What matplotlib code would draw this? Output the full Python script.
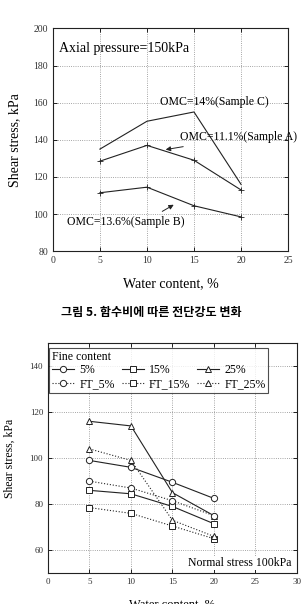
import matplotlib
matplotlib.use("Agg")
import matplotlib.pyplot as plt

plt.rcParams['font.family'] = ['Liberation Serif', 'DejaVu Serif']

# top chart data
water = [5, 10, 15, 20]
sample_c = [135, 150, 155, 116]
sample_a = [128.5, 137, 129, 113]
sample_b = [111.5, 114.5, 104.5, 98.5]

# bottom chart data
fine_5 = [99, 96, 89.5, 82.5]
fine_15 = [86, 84.5, 79, 71.5]
fine_25 = [116, 114, 85, 75]
ft_5 = [90, 87, 81.5, 75]
ft_15 = [78.5, 76, 70.5, 65]
ft_25 = [104, 99, 73, 66]

fig = plt.figure(figsize=(3.02, 6.04), dpi=100)
ink = '#222222'

def style(ax, tsize):
    ax.grid(True, linestyle=':', color='#888888', linewidth=0.6)
    ax.tick_params(direction='in', top=True, right=True, labelsize=tsize, length=3,
                   width=0.6, labelcolor='#333333')
    for s in ax.spines.values():
        s.set_linewidth(0.8)
        s.set_color(ink)

# ---- top chart ----
ax1 = fig.add_axes([0.175, 0.584, 0.779, 0.369])
ax1.plot(water, sample_c, color=ink, lw=0.8)
ax1.plot(water, sample_a, color=ink, lw=0.8, marker='+', ms=4, mew=0.6)
ax1.plot(water, sample_b, color=ink, lw=0.8, marker='+', ms=4, mew=0.6)
ax1.set_xlim(0, 25)
ax1.set_ylim(80, 200)
ax1.set_xticks(range(0, 26, 5))
ax1.set_yticks(range(80, 201, 20))
style(ax1, 7)
ax1.set_xlabel('Water content, %', fontsize=10, labelpad=9)
ax1.set_ylabel('Shear stress, kPa', fontsize=10, labelpad=9)
ax1.text(0.7, 189, 'Axial pressure=150kPa', fontsize=10, va='center')
ax1.text(11.4, 160.5, 'OMC=14%(Sample C)', fontsize=8.5, va='center')
ax1.annotate('OMC=11.1%(Sample A)', xy=(11.7, 134.5), xytext=(13.5, 141.3),
             fontsize=8.5, va='center', annotation_clip=False,
             arrowprops=dict(arrowstyle='-|>', color=ink, lw=0.7, mutation_scale=7))
ax1.annotate('OMC=13.6%(Sample B)', xy=(13.1, 105.8), xytext=(1.5, 96),
             fontsize=8.5, va='center',
             arrowprops=dict(arrowstyle='-|>', color=ink, lw=0.7, mutation_scale=7,
                             relpos=(0.75, 1.0)))

fig.text(0.5, 0.483, '그림 5. 함수비에 따른 전단강도 변화', ha='center', va='center',
         fontsize=8.7, fontweight='bold', family=['Noto Sans CJK KR', 'DejaVu Sans'])

# ---- bottom chart ----
ax2 = fig.add_axes([0.159, 0.051, 0.824, 0.381])
mk = dict(color=ink, lw=0.8, ms=4.5, mfc='white', mew=0.7)
h5, = ax2.plot(water, fine_5, marker='o', ls='-', label='5%', **mk)
h15, = ax2.plot(water, fine_15, marker='s', ls='-', label='15%', **mk)
h25, = ax2.plot(water, fine_25, marker='^', ls='-', label='25%', **mk)
f5, = ax2.plot(water, ft_5, marker='o', ls=':', label='FT_5%', **mk)
f15, = ax2.plot(water, ft_15, marker='s', ls=':', label='FT_15%', **mk)
f25, = ax2.plot(water, ft_25, marker='^', ls=':', label='FT_25%', **mk)
ax2.set_xlim(0, 30)
ax2.set_ylim(50, 150)
ax2.set_xticks(range(0, 31, 5))
ax2.set_yticks(range(60, 141, 20))
style(ax2, 6.5)
ax2.set_xlabel('Water content, %', fontsize=9, labelpad=9)
ax2.set_ylabel('Shear stress, kPa', fontsize=8.5, labelpad=10)
leg = ax2.legend([h5, f5, h15, f15, h25, f25],
                 ['5%', 'FT_5%', '15%', 'FT_15%', '25%', 'FT_25%'],
                 ncol=3, title='Fine content', fontsize=8.5, title_fontsize=8.5,
                 loc='upper left', bbox_to_anchor=(0.004, 0.98), frameon=True,
                 fancybox=False, edgecolor=ink, handlelength=1.9, handletextpad=0.4,
                 columnspacing=0.6, labelspacing=0.15, borderpad=0.25, borderaxespad=0)
leg._legend_box.align = 'left'
leg.get_frame().set_linewidth(0.8)
ax2.text(29.3, 54.5, 'Normal stress 100kPa', fontsize=8.5, ha='right', va='center',
         bbox=dict(facecolor='white', edgecolor='none', pad=0.5))

fig.savefig('out.png', dpi=100)
